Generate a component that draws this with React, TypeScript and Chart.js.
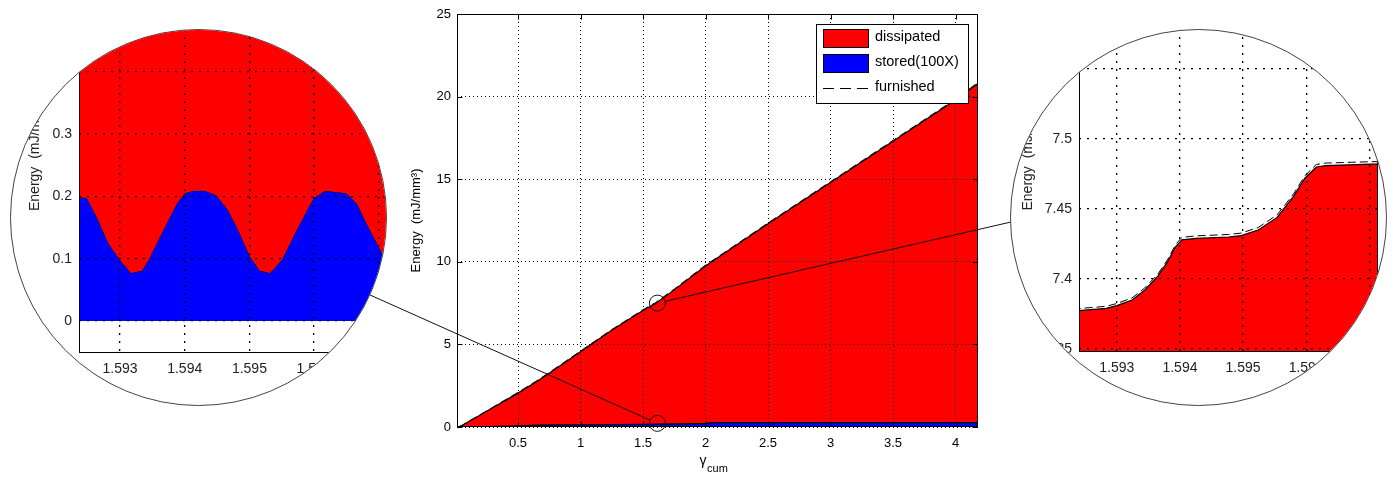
import React, { useEffect, useRef } from 'react';
import { Chart, registerables } from 'chart.js';
Chart.register(...registerables);

// ---------- data ----------
const legendLabels = ['dissipated', 'stored(100X)', 'furnished'];

// main chart (cumulative shear strain vs energy)
const mainGamma = [0.03, 0.1, 0.25, 0.5, 0.65, 0.75, 1.0, 1.25, 1.5, 1.6, 1.75, 2.0, 2.05, 2.5, 3.0, 3.5, 4.0, 4.18];
const mainTotal = [0, 0.3, 0.95, 2.05, 2.75, 3.25, 4.55, 5.85, 7.05, 7.48, 8.3, 9.75, 10.0, 12.3, 14.8, 17.3, 19.8, 20.8];
const mainStored = [0, 0.03, 0.06, 0.1, 0.15, 0.16, 0.17, 0.18, 0.2, 0.21, 0.22, 0.24, 0.3, 0.3, 0.3, 0.3, 0.3, 0.3];
const mainFurnished = [0, 0.32, 0.98, 2.1, 2.8, 3.3, 4.6, 5.9, 7.1, 7.53, 8.35, 9.8, 10.05, 12.35, 14.85, 17.35, 19.85, 20.85];

// zoomed window (both insets)
const insetGamma = [1.5923, 1.59283, 1.593, 1.59324, 1.59344, 1.59365, 1.5938, 1.59393, 1.59403, 1.59426, 1.59477, 1.59497, 1.59524, 1.59554, 1.5958, 1.59598, 1.59616, 1.59631, 1.59703, 1.5974];
const insetTotal = [7.377, 7.379, 7.381, 7.385, 7.392, 7.402, 7.412, 7.423, 7.428, 7.429, 7.43, 7.431, 7.435, 7.444, 7.459, 7.472, 7.48, 7.481, 7.482, 7.482];
const insetFurnished = [7.3785, 7.3805, 7.3825, 7.3865, 7.3935, 7.4035, 7.4135, 7.4245, 7.4298, 7.4308, 7.4318, 7.4328, 7.4368, 7.4458, 7.4608, 7.4738, 7.4818, 7.4828, 7.4838, 7.4838];
const insetStoredGamma = [1.5923, 1.59249, 1.59264, 1.59282, 1.593, 1.59317, 1.59334, 1.59344, 1.59367, 1.59388, 1.594, 1.59413, 1.59431, 1.59449, 1.59467, 1.59485, 1.59501, 1.59516, 1.59532, 1.5955, 1.59573, 1.59599, 1.59617, 1.5965, 1.59666, 1.59681, 1.59704, 1.5974];
const insetStored = [0.2, 0.197, 0.167, 0.125, 0.098, 0.077, 0.081, 0.098, 0.146, 0.189, 0.205, 0.209, 0.209, 0.202, 0.178, 0.141, 0.103, 0.081, 0.077, 0.098, 0.146, 0.197, 0.209, 0.205, 0.189, 0.157, 0.111, 0.06];

// zoom spots marked on the main chart (data coords)
const zoomSpotX = 1.615;
const zoomSpotTopY = 7.5;
const zoomSpotBottomY = 0.22;

// ---------- styling / layout ----------
const FONT = "'Liberation Sans', Arial, sans-serif";
const RED = '#ff0000';
const BLUE = '#0000ff';
const leftAnchor = [370, 295];
const rightAnchor = [1011, 222];

const pts = (xs: number[], ys: number[]) => xs.map((x, i) => ({ x, y: ys[i] }));
const fmt = (v: any) => String(parseFloat(Number(v).toFixed(6)));

function makeDatasets(g: number[], tot: number[], furn: number[], sg: number[], st: number[], storedWidth: number) {
  return [
    { label: legendLabels[0], data: pts(g, tot), borderColor: '#000', borderWidth: 1.2, backgroundColor: RED, fill: 1, pointRadius: 0, pointHoverRadius: 0, tension: 0 },
    { label: legendLabels[1], data: pts(sg, st), borderColor: '#000', borderWidth: storedWidth, backgroundColor: BLUE, fill: 'origin', pointRadius: 0, pointHoverRadius: 0, tension: 0 },
    { label: legendLabels[2], data: pts(g, furn), borderColor: '#000', borderWidth: 1, borderDash: [8, 4], backgroundColor: 'transparent', fill: false, pointRadius: 0, pointHoverRadius: 0, tension: 0 },
  ];
}

const boxPlugin = {
  id: 'matBox',
  afterDraw(chart: any, _a: any, opts: any) {
    const { ctx, chartArea: a } = chart;
    ctx.save();
    ctx.strokeStyle = '#000';
    ctx.lineWidth = 1;
    const l = Math.round(a.left) + 0.5, r = Math.round(a.right) - 0.5, t = Math.round(a.top) + 0.5, b = Math.round(a.bottom) - 0.5;
    ctx.strokeRect(l, t, r - l, b - t);
    if (opts && opts.tickLen) {
      const tl = opts.tickLen;
      ctx.beginPath();
      chart.scales.x.ticks.forEach((tk: any) => {
        const px = Math.round(chart.scales.x.getPixelForValue(tk.value)) + 0.5;
        ctx.moveTo(px, b); ctx.lineTo(px, b - tl);
        ctx.moveTo(px, t); ctx.lineTo(px, t + tl);
      });
      chart.scales.y.ticks.forEach((tk: any) => {
        const py = Math.round(chart.scales.y.getPixelForValue(tk.value)) + 0.5;
        ctx.moveTo(l, py); ctx.lineTo(l + tl, py);
        ctx.moveTo(r, py); ctx.lineTo(r - tl, py);
      });
      ctx.stroke();
    }
    ctx.restore();
  },
};

const connectorPlugin = {
  id: 'matConnectors',
  afterDraw(chart: any) {
    const { ctx } = chart;
    const xs = chart.scales.x, ys = chart.scales.y;
    const cx = xs.getPixelForValue(zoomSpotX);
    const spots = [
      { cy: ys.getPixelForValue(zoomSpotTopY), to: rightAnchor },
      { cy: ys.getPixelForValue(zoomSpotBottomY), to: leftAnchor },
    ];
    const R = 8;
    ctx.save();
    ctx.strokeStyle = '#111';
    ctx.lineWidth = 1;
    spots.forEach(({ cy, to }) => {
      ctx.beginPath();
      ctx.arc(cx, cy, R, 0, Math.PI * 2);
      ctx.stroke();
      const dx = to[0] - cx, dy = to[1] - cy;
      const d = Math.hypot(dx, dy);
      ctx.beginPath();
      ctx.moveTo(cx + (dx / d) * R, cy + (dy / d) * R);
      ctx.lineTo(to[0], to[1]);
      ctx.stroke();
    });
    ctx.restore();
  },
};

const legendPlugin = {
  id: 'matLegend',
  afterDraw(chart: any) {
    const { ctx, chartArea: a } = chart;
    const w = 152, h = 79;
    const x0 = Math.round(a.right - 162), y0 = Math.round(a.top + 10);
    ctx.save();
    ctx.fillStyle = '#fff';
    ctx.fillRect(x0, y0, w, h);
    ctx.strokeStyle = '#000';
    ctx.lineWidth = 1;
    ctx.strokeRect(x0 + 0.5, y0 + 0.5, w, h);
    const rows = [y0 + 14, y0 + 39, y0 + 64];
    ctx.font = `14.5px ${FONT}`;
    ctx.textBaseline = 'middle';
    chart.data.datasets.forEach((ds: any, i: number) => {
      const cy = rows[i];
      if (i < 2) {
        ctx.fillStyle = ds.backgroundColor;
        ctx.fillRect(x0 + 7, cy - 9, 46, 18);
        ctx.strokeRect(x0 + 7.5, cy - 8.5, 45, 18);
      } else {
        ctx.setLineDash([11, 6]);
        ctx.beginPath();
        ctx.moveTo(x0 + 7, cy + 0.5);
        ctx.lineTo(x0 + 53, cy + 0.5);
        ctx.stroke();
        ctx.setLineDash([]);
      }
      ctx.fillStyle = '#000';
      ctx.fillText(ds.label, x0 + 59, cy - 1);
    });
    ctx.restore();
  },
};

const xTitlePlugin = {
  id: 'matXTitle',
  afterDraw(chart: any) {
    const { ctx, chartArea: a } = chart;
    ctx.save();
    ctx.fillStyle = '#000';
    ctx.textBaseline = 'alphabetic';
    ctx.font = `14px ${FONT}`;
    const w1 = ctx.measureText('γ').width;
    ctx.font = `11px ${FONT}`;
    const w2 = ctx.measureText('cum').width;
    const start = (a.left + a.right) / 2 - 4 - (w1 + w2) / 2;
    ctx.font = `14px ${FONT}`;
    ctx.fillText('γ', start, a.bottom + 38);
    ctx.font = `11px ${FONT}`;
    ctx.fillText('cum', start + w1 + 0.5, a.bottom + 45);
    ctx.restore();
  },
};

function mainConfig(): any {
  const tickFont = { family: FONT, size: 13 };
  return {
    type: 'line',
    data: { datasets: makeDatasets(mainGamma, mainTotal, mainFurnished, mainGamma, mainStored, 2.6) },
    options: {
      responsive: false,
      maintainAspectRatio: false,
      animation: false,
      events: [],
      layout: { padding: { left: 409, right: 417, top: 14, bottom: 0 } },
      plugins: { legend: { display: false }, tooltip: { enabled: false }, matBox: { tickLen: 5 } },
      scales: {
        x: {
          type: 'linear', min: 0.012, max: 4.18,
          ticks: { stepSize: 0.5, includeBounds: false, padding: 9, maxRotation: 0, autoSkip: false, color: '#000', font: tickFont, callback: fmt },
          grid: { color: '#000', lineWidth: 1, drawTicks: false, z: 1 },
          border: { display: false, dash: [1, 3] },
          afterFit: (s: any) => { s.height = 50; },
        },
        y: {
          type: 'linear', min: 0, max: 25,
          ticks: { stepSize: 5, padding: 6, autoSkip: false, color: '#000', font: tickFont, callback: fmt },
          grid: { color: '#000', lineWidth: 1, drawTicks: false, z: 1 },
          border: { display: false, dash: [1, 3] },
          title: { display: true, text: 'Energy  (mJ/mm³)', color: '#000', font: { family: FONT, size: 13 }, padding: 0 },
          afterFit: (s: any) => { s.width = 48; },
        },
      },
    },
    plugins: [boxPlugin, connectorPlugin, legendPlugin, xTitlePlugin],
  };
}

function insetConfig(side: 'left' | 'right'): any {
  const isLeft = side === 'left';
  const tickFont = { family: FONT, size: 14 };
  const xMin = isLeft ? 1.592366 : 1.5924;
  const xMax = isLeft ? 1.597328 : 1.597138;
  const yMin = isLeft ? -0.05136 : 7.34786;
  const yMax = isLeft ? 0.5843 : 7.63;
  const yStep = isLeft ? 0.1 : 0.05;
  const padLeft = isLeft ? 27 : 1020;
  const yWidth = isLeft ? 52 : 59;
  const padRight = isLeft ? 995 : 8;
  const padBottom = isLeft ? 284 : 285;
  return {
    type: 'line',
    data: { datasets: makeDatasets(insetGamma, insetTotal, insetFurnished, insetStoredGamma, insetStored, 1) },
    options: {
      responsive: false,
      maintainAspectRatio: false,
      animation: false,
      events: [],
      layout: { padding: { left: padLeft, right: padRight, top: 157, bottom: padBottom } },
      plugins: { legend: { display: false }, tooltip: { enabled: false }, matBox: {} },
      scales: {
        x: {
          type: 'linear', min: xMin, max: xMax,
          ticks: { stepSize: 0.001, includeBounds: false, padding: 8, maxRotation: 0, autoSkip: false, color: '#222', font: tickFont, callback: fmt },
          grid: { color: '#000', lineWidth: 1.3, drawTicks: false, z: 1 },
          border: { display: false, dash: [2, 6] },
          afterFit: (s: any) => { s.height = 40; },
        },
        y: {
          type: 'linear', min: yMin, max: yMax,
          ticks: { stepSize: yStep, includeBounds: false, padding: 7, autoSkip: false, color: '#222', font: tickFont, callback: fmt },
          grid: { color: '#000', lineWidth: 1.3, drawTicks: false, z: 1 },
          border: { display: false, dash: [2, 6] },
          title: { display: true, text: 'Energy  (mJ/mm³)', color: '#222', font: { family: FONT, size: 14 }, padding: 0 },
          afterFit: (s: any) => { s.width = yWidth; },
        },
      },
    },
    plugins: [boxPlugin],
  };
}

const circleStyle = (left: number, top: number): React.CSSProperties => ({
  position: 'absolute', left, top, width: 377, height: 377, boxSizing: 'border-box',
  border: '1px solid #444', borderRadius: '50%', overflow: 'hidden', background: '#fff',
});

export default function App() {
  const mainRef = useRef<HTMLCanvasElement>(null);
  const leftRef = useRef<HTMLCanvasElement>(null);
  const rightRef = useRef<HTMLCanvasElement>(null);

  useEffect(() => {
    const charts = [
      new Chart(mainRef.current as HTMLCanvasElement, mainConfig()),
      new Chart(leftRef.current as HTMLCanvasElement, insetConfig('left')),
      new Chart(rightRef.current as HTMLCanvasElement, insetConfig('right')),
    ];
    return () => charts.forEach((c) => c.destroy());
  }, []);

  return (
    <div style={{ position: 'absolute', left: 0, top: 0, width: 1395, height: 477, background: '#fff', overflow: 'hidden' }}>
      <canvas ref={mainRef} width={1395} height={477} style={{ position: 'absolute', left: 0, top: 0, width: 1395, height: 477 }} />
      <div style={circleStyle(10, 29)}>
        <canvas ref={leftRef} width={1395} height={877} style={{ position: 'absolute', left: -11, top: -230, width: 1395, height: 877 }} />
      </div>
      <div style={circleStyle(1010, 29)}>
        <canvas ref={rightRef} width={1395} height={877} style={{ position: 'absolute', left: -1011, top: -230, width: 1395, height: 877 }} />
      </div>
    </div>
  );
}
